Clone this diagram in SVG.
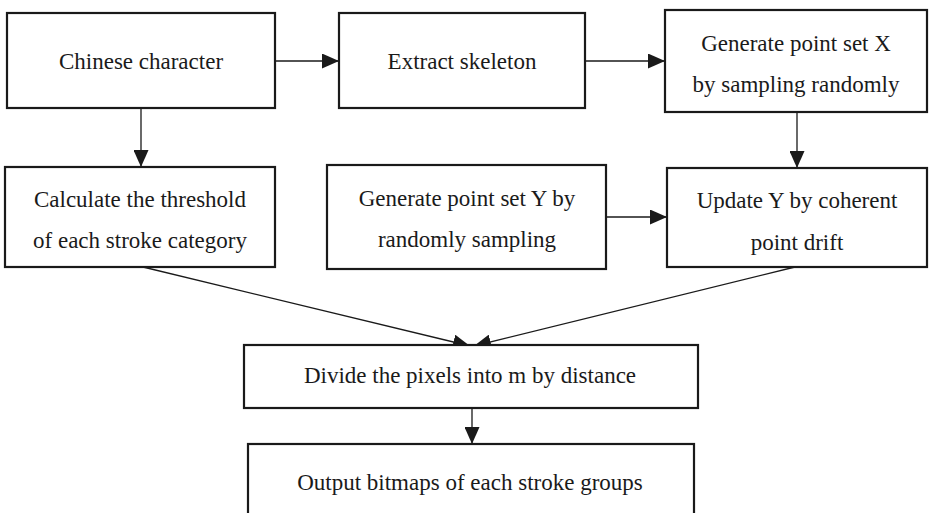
<svg xmlns="http://www.w3.org/2000/svg" width="929" height="513" viewBox="0 0 929 513">
<defs>
<style>
.box{fill:#fff;stroke:#1a1a1a;stroke-width:2.2}
.t{font-family:"Liberation Serif","Times New Roman",serif;font-size:23px;fill:#1a1a1a;text-anchor:middle}
.c{stroke:#1a1a1a;stroke-width:1.3;fill:none;marker-end:url(#ah)}
</style>
<marker id="ah" viewBox="0 0 17 15" refX="17" refY="7.5" markerWidth="17" markerHeight="15" markerUnits="userSpaceOnUse" orient="auto">
<path d="M0,0 L17,7.5 L0,15 Z" fill="#1a1a1a"/>
</marker>
</defs>
<rect width="929" height="513" fill="#fff"/>
<g id="connectors">
<line class="c" x1="275" y1="61" x2="339" y2="61"/>
<line class="c" x1="585" y1="61" x2="665" y2="61"/>
<line class="c" x1="141" y1="108" x2="141" y2="167"/>
<line class="c" x1="797" y1="112" x2="797" y2="168"/>
<line class="c" x1="606" y1="217" x2="667" y2="217"/>
<line class="c" x1="143" y1="267" x2="470" y2="346"/>
<line class="c" x1="795" y1="267" x2="474" y2="346"/>
<line class="c" x1="472" y1="408" x2="472" y2="444"/>
</g>
<g id="n1"><rect class="box" x="7" y="13" width="268" height="95"/><text class="t" x="141" y="69">Chinese character</text></g>
<g id="n2"><rect class="box" x="339" y="13" width="246" height="95"/><text class="t" x="462" y="69">Extract skeleton</text></g>
<g id="n3"><rect class="box" x="665" y="10" width="262" height="102"/><text class="t" x="796" y="51">Generate point set X</text><text class="t" x="796" y="92">by sampling randomly</text></g>
<g id="n4"><rect class="box" x="5" y="167" width="270" height="100"/><text class="t" x="140" y="207">Calculate the threshold</text><text class="t" x="140" y="248">of each stroke category</text></g>
<g id="n5"><rect class="box" x="327" y="165" width="279" height="104"/><text class="t" x="467" y="206">Generate point set Y by</text><text class="t" x="467" y="247">randomly sampling</text></g>
<g id="n6"><rect class="box" x="667" y="168" width="260" height="99"/><text class="t" x="797" y="208">Update Y by coherent</text><text class="t" x="797" y="250">point drift</text></g>
<g id="n7"><rect class="box" x="244" y="345" width="454" height="63"/><text class="t" x="470" y="383">Divide the pixels into m by distance</text></g>
<g id="n8"><rect class="box" x="248" y="444" width="446" height="80"/><text class="t" x="470" y="490">Output bitmaps of each stroke groups</text></g>
</svg>
